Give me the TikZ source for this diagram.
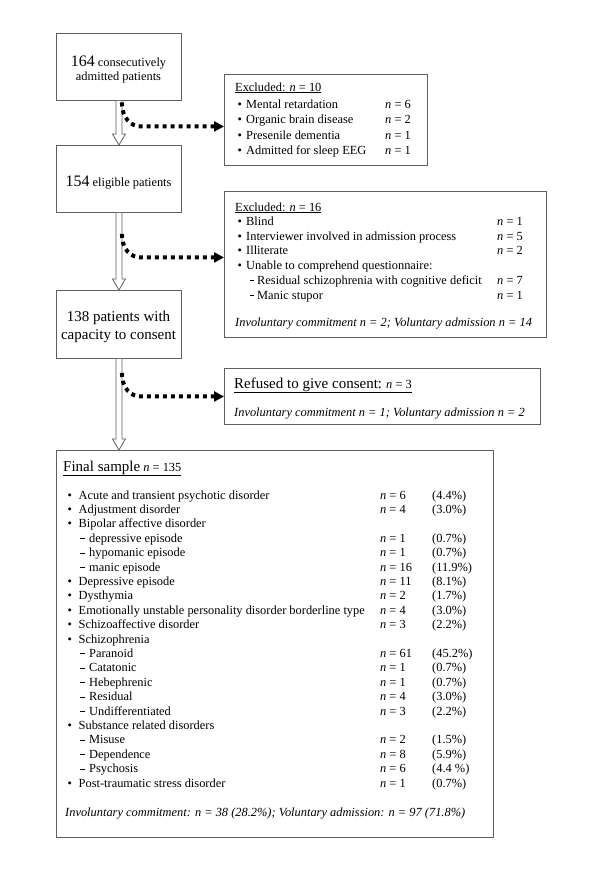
\documentclass[tikz,border=0pt]{standalone}
\usepackage{fontspec}
\setmainfont{Liberation Serif}
\usetikzlibrary{arrows.meta,calc}
\definecolor{boxgray}{RGB}{95,95,95}
\newcommand\sz{\fontsize{12.4}{14.4}\selectfont}
\newcommand\szb{\fontsize{12.4}{15.5}\selectfont}
\newcommand\szc{\fontsize{12.4}{14.7}\selectfont}
\newcommand\bigsz{\fontsize{15}{17}\selectfont}
\newcommand\hugesz{\fontsize{16}{18}\selectfont}
\newcommand\nn[1]{\textit{n} = #1}
\newcommand\dsh{\rule[3.3pt]{4.5pt}{0.7pt}}
\newcommand\bulA[1]{\makebox[11pt][l]{\textbullet}#1}
\newcommand\subA[1]{\hspace*{12.5pt}\makebox[9pt][l]{\dsh}#1}
\newcommand\bulB[1]{\makebox[8.5pt][l]{\textbullet}#1}
\newcommand\subB[1]{\hspace*{12pt}\makebox[7.5pt][l]{\dsh}#1}
\begin{document}
\begin{tikzpicture}[x=1pt,y=-1pt,
  box/.style={draw=boxgray,line width=0.9pt,fill=white,inner sep=0pt,anchor=north west},
  txt/.style={inner sep=0pt,anchor=base west,font=\sz},
  ctxt/.style={inner sep=0pt,anchor=base,font=\sz},
  arrowline/.style={draw=boxgray,line width=0.8pt,fill=white,line join=miter},
  dotline/.style={line width=4pt,dash pattern=on 4pt off 4pt,black,
     -{Triangle[length=10pt,width=10pt]}}]
\useasboundingbox[fill=white] (0,0) rectangle (600,887);

% main boxes
\node[box,minimum width=125pt,minimum height=67pt] (b1) at (56,33) {};
\node[box,minimum width=125pt,minimum height=67pt] (b2) at (56,145) {};
\node[box,minimum width=125pt,minimum height=68pt] (b3) at (56,290) {};
\node[box,minimum width=437pt,minimum height=387pt] (fin) at (56,450) {};
% side boxes
\node[box,minimum width=203pt,minimum height=91pt] (e1) at (224,74) {};
\node[box,minimum width=322pt,minimum height=146pt] (e2) at (224,191) {};
\node[box,minimum width=316pt,minimum height=56pt] (rf) at (224,368) {};

% hollow double arrows
\coordinate (fintop) at (b3.south |- fin.north);
\foreach \a/\b in {b1.south/b2.north,b2.south/b3.north,b3.south/fintop}{
  \draw[arrowline] ($(\a)+(-3,0)$) -- ($(\b)+(-3,-11)$) -- ($(\b)+(-6.5,-11)$)
    -- (\b) -- ($(\b)+(6.5,-11)$) -- ($(\b)+(3,-11)$) -- ($(\a)+(3,0)$);
}

% dotted arrows
\coordinate (s1) at ($(b1.south)+(3,1.5)$);
\coordinate (t1) at ($(e1.west)+(0,6.5)$);
\coordinate (h1) at ($(s1)+(19,0)$);
\coordinate (k1) at (h1 |- t1);
\draw[dotline] (s1) .. controls ($(s1)+(0,16)$) and ($(k1)+(-10,0)$) .. (k1) -- (t1);
\coordinate (s2) at ($(b2.south)+(3,21)$);
\coordinate (t2) at ($(e2.west)+(0,-7)$);
\coordinate (h2) at ($(s2)+(19,0)$);
\coordinate (k2) at (h2 |- t2);
\draw[dotline] (s2) .. controls ($(s2)+(0,16)$) and ($(k2)+(-10,0)$) .. (k2) -- (t2);
\coordinate (s3) at ($(b3.south)+(3,14)$);
\coordinate (t3) at (rf.west);
\coordinate (h3) at ($(s3)+(19,0)$);
\coordinate (k3) at (h3 |- t3);
\draw[dotline] (s3) .. controls ($(s3)+(0,16)$) and ($(k3)+(-10,0)$) .. (k3) -- (t3);

% texts of main boxes
\node[ctxt] (b1l1) at (118.5,66) {{\hugesz 164} consecutively};
\node[ctxt] (b1l2) at (118.5,80) {admitted patients};
\node[ctxt] (b2l1) at (118.5,186) {{\hugesz 154} eligible patients};
\node[ctxt,font=\bigsz] (b3l1) at (118.5,321.5) {138 patients with};
\node[ctxt,font=\bigsz] (b3l2) at (118.5,339) {capacity to consent};

% excluded 1
\node[txt] (e1t) at (235,91) {\underline{Excluded: \nn{10}}};
\node[txt,font=\szb] (e1l) at (237.5,108) {\begin{tabular}[t]{@{}p{147.5pt}@{}l@{}}
\bulB{Mental retardation} & \nn{6}\\
\bulB{Organic brain disease} & \nn{2}\\
\bulB{Presenile dementia} & \nn{1}\\
\bulB{Admitted for sleep EEG} & \nn{1}
\end{tabular}};

% excluded 2
\node[txt] (e2t) at (235,211) {\underline{Excluded: \nn{16}}};
\node[txt,font=\szc] (e2l) at (237.5,225.5) {\begin{tabular}[t]{@{}p{259.5pt}@{}l@{}}
\bulB{Blind} & \nn{1}\\
\bulB{Interviewer involved in admission process} & \nn{5}\\
\bulB{Illiterate} & \nn{2}\\
\bulB{Unable to comprehend questionnaire:} & \\
\subB{Residual schizophrenia with cognitive deficit} & \nn{7}\\
\subB{Manic stupor} & \nn{1}
\end{tabular}};
\node[txt] (e2i) at (235,326) {\textit{Involuntary commitment n = 2; Voluntary admission n = 14}};

% refused
\node[txt] (rft) at (234,388) {\underline{{\bigsz Refused to give consent:} \nn{3}}};
\node[txt] (rfi) at (234,416) {\textit{Involuntary commitment n = 1; Voluntary admission n = 2}};

% final sample
\node[txt] (fint) at (63,471) {\underline{{\bigsz Final sample} \nn{135}}};
\node[txt] (finl) at (67.5,499) {\begin{tabular}[t]{@{}p{312.5pt}@{}p{52pt}@{}l@{}}
\bulA{Acute and transient psychotic disorder} & \nn{6} & (4.4\%)\\
\bulA{Adjustment disorder} & \nn{4} & (3.0\%)\\
\bulA{Bipolar affective disorder} & & \\
\subA{depressive episode} & \nn{1} & (0.7\%)\\
\subA{hypomanic episode} & \nn{1} & (0.7\%)\\
\subA{manic episode} & \nn{16} & (11.9\%)\\
\bulA{Depressive episode} & \nn{11} & (8.1\%)\\
\bulA{Dysthymia} & \nn{2} & (1.7\%)\\
\bulA{Emotionally unstable personality disorder borderline type} & \nn{4} & (3.0\%)\\
\bulA{Schizoaffective disorder} & \nn{3} & (2.2\%)\\
\bulA{Schizophrenia} & & \\
\subA{Paranoid} & \nn{61} & (45.2\%)\\
\subA{Catatonic} & \nn{1} & (0.7\%)\\
\subA{Hebephrenic} & \nn{1} & (0.7\%)\\
\subA{Residual} & \nn{4} & (3.0\%)\\
\subA{Undifferentiated} & \nn{3} & (2.2\%)\\
\bulA{Substance related disorders} & & \\
\subA{Misuse} & \nn{2} & (1.5\%)\\
\subA{Dependence} & \nn{8} & (5.9\%)\\
\subA{Psychosis} & \nn{6} & (4.4 \%)\\
\bulA{Post-traumatic stress disorder} & \nn{1} & (0.7\%)
\end{tabular}};
\node[txt] (fini) at (65,816) {\textit{Involuntary commitment: n = 38 (28.2\%); Voluntary admission: n = 97 (71.8\%)}};
\end{tikzpicture}
\end{document}
